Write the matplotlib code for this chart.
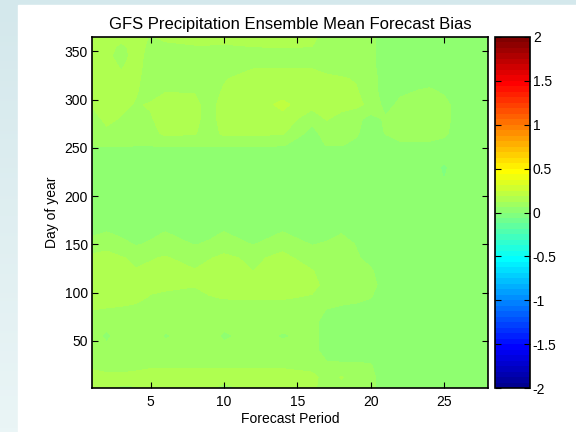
import numpy as np
import matplotlib
matplotlib.use("Agg")
import matplotlib.pyplot as plt
from matplotlib.colors import ListedColormap, LinearSegmentedColormap
from matplotlib.patches import Rectangle

plt.rcParams["font.family"] = ["Liberation Sans", "DejaVu Sans"]
plt.rcParams["font.size"] = 10

# forecast periods (columns) and day of year (rows) of the bias grid
periods = [1, 2, 3, 4, 5, 6, 8, 9, 10, 12, 14, 16, 17, 18, 19, 20, 21, 22, 24, 25, 26, 28]
days = [1, 12, 25, 40, 55, 70, 82, 95, 108, 122, 136, 150, 162, 175,
        230, 245, 253, 265, 280, 295, 310, 322, 334, 345, 355, 365]

# ensemble mean bias, one row per day above
bias = [
    [.15, .13, .12, .12, .14, .15, .15, .14, .10, .15, .15, .14, .09, .10, .09, .08, .03, .03, .03, .03, .03, .03],
    [.15, .14, .14, .15, .16, .16, .16, .16, .16, .16, .16, .15, .09, .13, .09, .08, .03, .03, .03, .03, .03, .03],
    [.11, .10, .10, .10, .11, .11, .11, .11, .11, .11, .11, .09, .07, .07, .07, .065, .03, .03, .03, .03, .03, .03],
    [.09, .08, .09, .09, .09, .09, .09, .09, .09, .09, .09, .08, .04, .03, .03, .03, .03, .03, .03, .03, .03, .03],
    [.09, .05, .09, .09, .09, .055, .09, .09, .05, .09, .055, .08, .04, .03, .03, .03, .03, .03, .03, .03, .03, .03],
    [.09, .09, .09, .09, .09, .09, .09, .09, .09, .09, .09, .08, .04, .03, .03, .03, .03, .03, .03, .03, .03, .03],
    [.125, .12, .115, .11, .10, .09, .09, .09, .09, .10, .10, .09, .06, .04, .03, .03, .03, .03, .03, .03, .03, .03],
    [.15, .15, .15, .14, .12, .11, .10, .12, .13, .13, .13, .12, .10, .10, .09, .065, .03, .03, .03, .03, .03, .03],
    [.16, .16, .16, .15, .14, .14, .13, .15, .16, .16, .16, .14, .11, .10, .10, .08, .04, .03, .03, .03, .03, .03],
    [.16, .17, .15, .13, .14, .15, .13, .15, .16, .125, .16, .13, .09, .09, .08, .07, .03, .03, .03, .03, .03, .03],
    [.14, .15, .13, .11, .12, .13, .10, .12, .14, .11, .145, .09, .08, .09, .07, .045, .03, .03, .03, .03, .03, .03],
    [.09, .10, .08, .058, .07, .09, .06, .07, .09, .06, .10, .06, .07, .09, .06, .03, .03, .03, .03, .03, .03, .03],
    [.05, .065, .05, .03, .05, .065, .03, .05, .065, .03, .065, .03, .04, .06, .03, .03, .03, .03, .03, .03, .03, .03],
    [.03, .03, .03, .03, .03, .03, .03, .03, .03, .03, .03, .03, .03, .03, .03, .03, .03, .03, .03, .03, .03, .03],
    [.03, .03, .03, .03, .03, .03, .03, .03, .03, .03, .03, .03, .03, .03, .03, .03, .03, .03, .03, -.01, .03, .03],
    [.04, .04, .04, .04, .04, .04, .04, .04, .04, .04, .04, .04, .04, .04, .04, .04, .03, .03, .03, .03, .03, .03],
    [.065, .07, .07, .065, .065, .07, .07, .07, .07, .07, .065, .04, .065, .065, .05, .03, .03, .05, .05, .04, .03, .03],
    [.09, .11, .09, .09, .10, .14, .13, .09, .14, .14, .13, .04, .09, .09, .07, .03, .065, .09, .09, .075, .03, .03],
    [.10, .14, .12, .11, .12, .15, .14, .10, .15, .16, .17, .08, .13, .10, .08, .04, .07, .10, .10, .09, .03, .03],
    [.13, .15, .14, .12, .13, .15, .14, .10, .15, .16, .20, .15, .15, .15, .14, .11, .04, .075, .10, .085, .03, .03],
    [.14, .15, .14, .13, .10, .12, .12, .10, .13, .16, .16, .15, .15, .14, .13, .09, .03, .05, .07, .05, .03, .03],
    [.15, .15, .14, .14, .09, .09, .09, .09, .12, .15, .15, .15, .14, .13, .12, .09, .03, .03, .03, .03, .03, .03],
    [.15, .15, .12, .15, .09, .09, .09, .09, .09, .12, .12, .12, .10, .10, .09, .08, .03, .03, .03, .03, .03, .03],
    [.15, .14, .10, .15, .10, .09, .09, .09, .09, .09, .09, .09, .09, .09, .09, .08, .03, .03, .03, .03, .03, .03],
    [.15, .15, .11, .15, .11, .11, .12, .12, .12, .125, .13, .125, .09, .09, .09, .08, .03, .03, .03, .03, .03, .03],
    [.16, .16, .15, .15, .12, .14, .15, .15, .14, .15, .15, .14, .10, .09, .09, .08, .03, .03, .03, .03, .03, .03],
]

cbar_ticks = [-2, -1.5, -1, -0.5, 0, 0.5, 1, 1.5, 2]
cbar_labels = ["-2", "-1.5", "-1", "-0.5", "0", "0.5", "1", "1.5", "2"]


def matlab_jet(n=64):
    # same construction as matlab's jet(n)
    q = int(np.ceil(n / 4))
    u = np.r_[np.arange(1, q + 1) / q, np.ones(q - 1), np.arange(q, 0, -1) / q]
    g = int(np.ceil(q / 2)) - int(n % 4 == 1) + np.arange(1, len(u) + 1)
    cm = np.zeros((n, 3))
    for idx, ch in ((g + q, 0), (g, 1), (g - q, 2)):
        ok = (idx >= 1) & (idx <= n)
        cm[idx[ok] - 1, ch] = u[ok]
    return ListedColormap(cm)


fig = plt.figure(figsize=(5.76, 4.32), dpi=100)

# page background: pale blue strip on the left/top, white panel
bg = fig.add_axes([0, 0, 1, 1], zorder=-10)
bg.imshow(np.linspace(0, 1, 100)[:, None], aspect="auto", extent=[0, 1, 0, 1],
          cmap=LinearSegmentedColormap.from_list("page", ["#d4e8ec", "#eaf5f6"]),
          interpolation="bilinear")
bg.add_patch(Rectangle((17.7 / 576, 0), 1, 1 - 5 / 432, color="white"))
bg.set_xlim(0, 1)
bg.set_ylim(0, 1)
bg.axis("off")

ax = fig.add_axes([92 / 576, 44 / 432, 396 / 576, 351 / 432])
cax = fig.add_axes([495 / 576, 44 / 432, 35 / 576, 351 / 432])

P, D = np.meshgrid(periods, days)
cs = ax.contourf(P, D, np.array(bias), levels=np.linspace(-2, 2, 65),
                 cmap=matlab_jet(64), norm=plt.Normalize(-2, 2))

ax.set_xlim(1, 28)
ax.set_ylim(1, 365)
ax.set_xticks([5, 10, 15, 20, 25])
ax.set_yticks([50, 100, 150, 200, 250, 300, 350])
ax.tick_params(direction="in", top=True, right=True, length=4, width=0.8)
ax.tick_params(axis="x", pad=5)
ax.tick_params(axis="y", pad=3)
for s in ax.spines.values():
    s.set_linewidth(1.2)
ax.set_title("GFS Precipitation Ensemble Mean Forecast Bias", pad=6)
ax.set_xlabel("Forecast Period", labelpad=2)
ax.set_ylabel("Day of year", labelpad=4)

cb = fig.colorbar(cs, cax=cax, ticks=cbar_ticks)
cb.ax.set_yticklabels(cbar_labels)
cb.ax.tick_params(direction="in", left=True, right=True, length=4, width=0.8, pad=2)
cb.outline.set_linewidth(1.2)

fig.savefig("out.png", dpi=100)
